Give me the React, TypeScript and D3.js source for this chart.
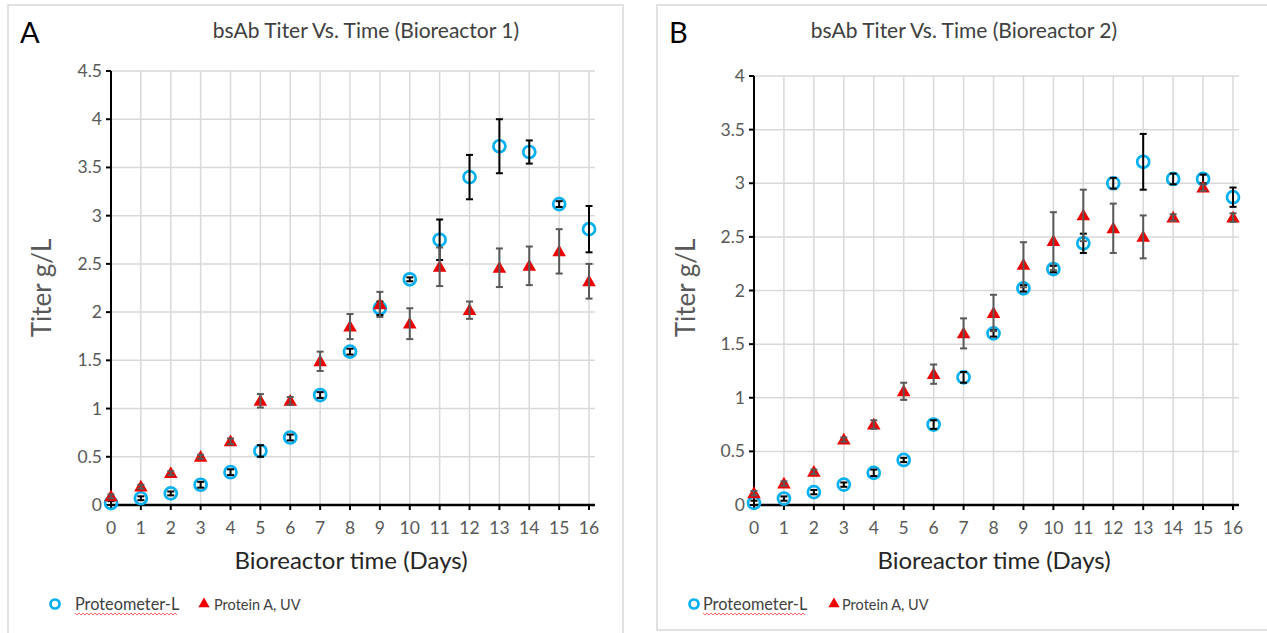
import React from "react";
import * as d3 from "d3";

const days = [0, 1, 2, 3, 4, 5, 6, 7, 8, 9, 10, 11, 12, 13, 14, 15, 16];

const protA = [0.02, 0.07, 0.12, 0.21, 0.34, 0.56, 0.70, 1.14, 1.59, 2.04, 2.34, 2.75, 3.40, 3.72, 3.66, 3.12, 2.86];
const protAErr = [0.02, 0.02, 0.02, 0.03, 0.03, 0.06, 0.03, 0.03, 0.03, 0.07, 0.02, 0.21, 0.23, 0.28, 0.12, 0.03, 0.24];
const uvA = [0.09, 0.19, 0.33, 0.50, 0.66, 1.08, 1.08, 1.49, 1.85, 2.08, 1.88, 2.47, 2.02, 2.46, 2.48, 2.63, 2.32];
const uvAErr = [0.02, 0.02, 0.02, 0.02, 0.03, 0.07, 0.04, 0.10, 0.13, 0.13, 0.16, 0.20, 0.09, 0.20, 0.20, 0.23, 0.18];

const protB = [0.02, 0.06, 0.12, 0.19, 0.30, 0.42, 0.75, 1.19, 1.60, 2.02, 2.20, 2.44, 3.00, 3.20, 3.04, 3.04, 2.87];
const protBErr = [0.02, 0.02, 0.02, 0.02, 0.03, 0.02, 0.04, 0.05, 0.03, 0.03, 0.03, 0.09, 0.05, 0.26, 0.05, 0.04, 0.09];
const uvB = [0.11, 0.20, 0.31, 0.61, 0.75, 1.06, 1.22, 1.60, 1.79, 2.24, 2.46, 2.70, 2.58, 2.50, 2.68, 2.96, 2.68];
const uvBErr = [0.02, 0.02, 0.02, 0.02, 0.04, 0.08, 0.09, 0.14, 0.17, 0.21, 0.27, 0.24, 0.23, 0.20, 0.03, 0.03, 0.04];

const yTicksA = [0, 0.5, 1, 1.5, 2, 2.5, 3, 3.5, 4, 4.5];
const yTicksB = [0, 0.5, 1, 1.5, 2, 2.5, 3, 3.5, 4];

const titleA = "bsAb Titer Vs. Time (Bioreactor 1)";
const titleB = "bsAb Titer Vs. Time (Bioreactor 2)";
const xLabel = "Bioreactor time (Days)";
const yLabel = "Titer g/L";
const legendNames = ["Proteometer-L", "Protein A, UV"];

const FONT = "Lato, 'Open Sans', sans-serif";
const BLUE = "#00b0f0";
const RED = "#ee0000";

type PanelProps = {
  letter: string;
  title: string;
  frame: [number, number, number, number];
  xr: [number, number];
  yr: [number, number];
  yMax: number;
  yTicks: number[];
  prot: number[];
  protErr: number[];
  uv: number[];
  uvErr: number[];
  titleX: number;
  xLabelX: number;
  yLabelX: number;
  legendX: [number, number, number, number];
};

function wavy(x0: number, x1: number, y: number) {
  const pts: [number, number][] = [];
  for (let x = x0, i = 0; x <= x1; x += 2, i++) pts.push([x, y + (i % 2 === 0 ? 0 : 2)]);
  return d3.line()(pts) || "";
}

function Panel(p: PanelProps) {
  const x = d3.scaleLinear().domain([0, 16.2]).range(p.xr);
  const y = d3.scaleLinear().domain([0, p.yMax]).range(p.yr);
  const tri = d3.symbol().type(d3.symbolTriangle).size(80)() || "";
  const [fx, fy, fw, fh] = p.frame;
  const cap = 3.5;
  return (
    <g>
      <rect x={fx} y={fy} width={fw} height={fh} fill="#fff" stroke="#d9d9d9" strokeWidth={1.5} />
      <text x={fx + 12} y={43} fontFamily={FONT} fontSize={29} fill="#000">{p.letter}</text>
      <text x={p.titleX} y={38} fontFamily={FONT} fontSize={21} fill="#404040" textAnchor="middle">{p.title}</text>
      {p.yTicks.map((t) => (
        <line key={"gy" + t} x1={x(0)} x2={x(16.2)} y1={y(t)} y2={y(t)} stroke="#d9d9d9" strokeWidth={1.5} />
      ))}
      {days.map((d) => (
        <line key={"gx" + d} x1={x(d)} x2={x(d)} y1={y(0)} y2={y(p.yMax)} stroke="#d9d9d9" strokeWidth={1.5} />
      ))}
      <line x1={x(0)} x2={x(0)} y1={y(0)} y2={y(p.yMax)} stroke="#000" strokeWidth={2} />
      <line x1={x(0)} x2={x(16.2)} y1={y(0)} y2={y(0)} stroke="#000" strokeWidth={2.5} />
      {p.yTicks.map((t) => (
        <g key={"ty" + t}>
          <line x1={x(0) - 5} x2={x(0)} y1={y(t)} y2={y(t)} stroke="#000" strokeWidth={2} />
          <text x={x(0) - 9} y={y(t) + 6} fontFamily={FONT} fontSize={17.5} fill="#595959" textAnchor="end">{t}</text>
        </g>
      ))}
      {days.map((d) => (
        <g key={"tx" + d}>
          <line x1={x(d)} x2={x(d)} y1={y(0)} y2={y(0) + 5} stroke="#000" strokeWidth={2} />
          <text x={x(d)} y={y(0) + 29} fontFamily={FONT} fontSize={17.5} fill="#595959" textAnchor="middle">{d}</text>
        </g>
      ))}
      <text x={p.xLabelX} y={569} fontFamily={FONT} fontSize={24} fill="#262626" textAnchor="middle">{xLabel}</text>
      <text transform={`translate(${p.yLabelX},${288}) rotate(-90)`} fontFamily={FONT} fontSize={26} fill="#595959" textAnchor="middle">{yLabel}</text>
      {days.map((d, i) => (
        <circle key={"c" + d} cx={x(d)} cy={y(p.prot[i])} r={6} fill="none" stroke={BLUE} strokeWidth={2.7} />
      ))}
      {days.map((d, i) => {
        const lo = y(p.prot[i] - p.protErr[i]);
        const hi = y(p.prot[i] + p.protErr[i]);
        return (
          <g key={"ec" + d} stroke="#000" strokeWidth={2}>
            <line x1={x(d)} x2={x(d)} y1={lo} y2={hi} />
            <line x1={x(d) - cap} x2={x(d) + cap} y1={lo} y2={lo} />
            <line x1={x(d) - cap} x2={x(d) + cap} y1={hi} y2={hi} />
          </g>
        );
      })}
      {days.map((d, i) => (
        <path key={"t" + d} d={tri} transform={`translate(${x(d)},${y(p.uv[i]) + 1})`} fill={RED} />
      ))}
      {days.map((d, i) => {
        const lo = y(p.uv[i] - p.uvErr[i]);
        const hi = y(p.uv[i] + p.uvErr[i]);
        return (
          <g key={"et" + d} stroke="#595959" strokeWidth={2}>
            <line x1={x(d)} x2={x(d)} y1={lo} y2={hi} />
            <line x1={x(d) - cap} x2={x(d) + cap} y1={lo} y2={lo} />
            <line x1={x(d) - cap} x2={x(d) + cap} y1={hi} y2={hi} />
          </g>
        );
      })}
      <circle cx={p.legendX[0]} cy={604} r={4.5} fill="none" stroke={BLUE} strokeWidth={2.7} />
      <text x={p.legendX[1]} y={610} fontFamily={FONT} fontSize={16.3} fill="#404040">{legendNames[0]}</text>
      <path d={wavy(p.legendX[1], p.legendX[1] + 102, 613)} fill="none" stroke="#ff4040" strokeWidth={0.8} />
      <path d={d3.symbol().type(d3.symbolTriangle).size(55)() || ""} transform={`translate(${p.legendX[2]},${604})`} fill={RED} />
      <text x={p.legendX[3]} y={610} fontFamily={FONT} fontSize={14.5} fill="#404040">{legendNames[1]}</text>
    </g>
  );
}

export default function App() {
  return (
    <svg width={1267} height={633} style={{ position: "absolute", left: 0, top: 0, background: "#fff" }}>
      <rect x={0} y={0} width={1267} height={633} fill="#fff" />
      <Panel
        letter="A" title={titleA} frame={[8, 5, 615, 640]}
        xr={[111, 595]} yr={[505, 71]} yMax={4.5} yTicks={yTicksA}
        prot={protA} protErr={protAErr} uv={uvA} uvErr={uvAErr}
        titleX={366} xLabelX={351} yLabelX={51} legendX={[55, 75, 204, 214]}
      />
      <Panel
        letter="B" title={titleB} frame={[657, 5, 620, 625]}
        xr={[754, 1239]} yr={[505, 76]} yMax={4} yTicks={yTicksB}
        prot={protB} protErr={protBErr} uv={uvB} uvErr={uvBErr}
        titleX={964} xLabelX={994} yLabelX={695} legendX={[694, 703, 834, 842]}
      />
    </svg>
  );
}
